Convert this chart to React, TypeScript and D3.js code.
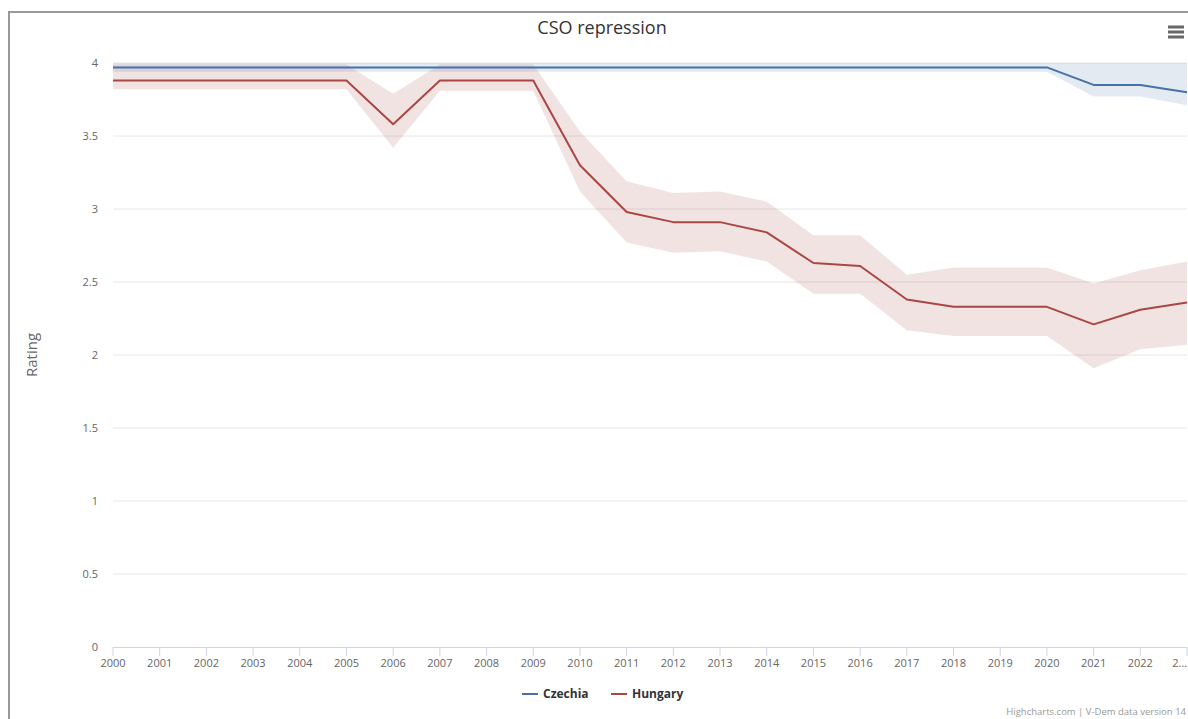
import * as d3 from "d3";

const years = [
  "2000", "2001", "2002", "2003", "2004", "2005", "2006", "2007", "2008", "2009", "2010", "2011",
  "2012", "2013", "2014", "2015", "2016", "2017", "2018", "2019", "2020", "2021", "2022", "2023",
];

const czechiaLine = [
  3.97, 3.97, 3.97, 3.97, 3.97, 3.97, 3.97, 3.97, 3.97, 3.97, 3.97, 3.97,
  3.97, 3.97, 3.97, 3.97, 3.97, 3.97, 3.97, 3.97, 3.97, 3.85, 3.85, 3.8,
];
const czechiaLow = [
  3.94, 3.94, 3.94, 3.94, 3.94, 3.94, 3.94, 3.94, 3.94, 3.94, 3.94, 3.94,
  3.94, 3.94, 3.94, 3.94, 3.94, 3.94, 3.94, 3.94, 3.94, 3.77, 3.77, 3.71,
];
const czechiaHigh = [
  4.0, 4.0, 4.0, 4.0, 4.0, 4.0, 4.0, 4.0, 4.0, 4.0, 4.0, 4.0,
  4.0, 4.0, 4.0, 4.0, 4.0, 4.0, 4.0, 4.0, 4.0, 4.0, 4.0, 4.0,
];

const hungaryLine = [
  3.88, 3.88, 3.88, 3.88, 3.88, 3.88, 3.58, 3.88, 3.88, 3.88, 3.3, 2.98,
  2.91, 2.91, 2.84, 2.63, 2.61, 2.38, 2.33, 2.33, 2.33, 2.21, 2.31, 2.36,
];
const hungaryLow = [
  3.82, 3.82, 3.82, 3.82, 3.82, 3.82, 3.42, 3.81, 3.81, 3.81, 3.12, 2.77,
  2.7, 2.71, 2.64, 2.42, 2.42, 2.17, 2.13, 2.13, 2.13, 1.91, 2.04, 2.07,
];
const hungaryHigh = [
  3.99, 3.99, 3.99, 3.99, 3.99, 3.99, 3.79, 3.99, 3.99, 3.99, 3.53, 3.19,
  3.11, 3.12, 3.05, 2.82, 2.82, 2.55, 2.6, 2.6, 2.6, 2.49, 2.58, 2.64,
];

const yTicks = [0, 0.5, 1, 1.5, 2, 2.5, 3, 3.5, 4];

const series = [
  { name: "Czechia", line: czechiaLine, low: czechiaLow, high: czechiaHigh, color: "#4572a7" },
  { name: "Hungary", line: hungaryLine, low: hungaryLow, high: hungaryHigh, color: "#aa4643" },
];

const width = 1188;
const height = 719;
const font = "'Open Sans', 'Noto Sans', sans-serif";

export default function App() {
  const x = d3.scalePoint<string>().domain(years).range([113, 1187]);
  const y = d3.scaleLinear().domain([0, 4]).range([647, 63]);

  const line = d3
    .line<number>()
    .x((_, i) => x(years[i])!)
    .y((d) => y(d));

  const area = (low: number[], high: number[]) =>
    d3
      .area<number>()
      .x((_, i) => x(years[i])!)
      .y0((_, i) => y(low[i]))
      .y1((d) => y(d))(high);

  return (
    <svg
      width={width}
      height={height}
      style={{ position: "absolute", left: 0, top: 0, fontFamily: font }}
    >
      <rect x={0} y={0} width={width} height={height} fill="#fff" />
      {/* container border */}
      <path d={`M9,${height} V12 H${width}`} fill="none" stroke="#999" strokeWidth={2} />

      <text x={602} y={34} textAnchor="middle" fontSize={18} fill="#333">
        CSO repression
      </text>

      {/* menu icon */}
      <g stroke="#666" strokeWidth={3}>
        <line x1={1168} x2={1184} y1={27} y2={27} />
        <line x1={1168} x2={1184} y1={32} y2={32} />
        <line x1={1168} x2={1184} y1={37} y2={37} />
      </g>

      {/* grid + y labels */}
      {yTicks.map((t) => (
        <g key={t}>
          {t > 0 && (
            <line x1={113} x2={1187} y1={y(t)} y2={y(t)} stroke="#e6e6e6" strokeWidth={1} />
          )}
          <text x={98} y={y(t) + 4} textAnchor="end" fontSize={11} fill="#666">
            {t}
          </text>
        </g>
      ))}

      <text
        transform={`translate(37,${(y(0) + y(4)) / 2}) rotate(-90)`}
        textAnchor="middle"
        fontSize={15}
        fill="#666"
      >
        Rating
      </text>

      {/* bands */}
      {series.map((s) => (
        <path key={s.name + "-band"} d={area(s.low, s.high)!} fill={s.color} fillOpacity={0.15} />
      ))}
      {series.map((s) => (
        <path
          key={s.name + "-line"}
          d={line(s.line)!}
          fill="none"
          stroke={s.color}
          strokeWidth={2}
          strokeLinejoin="round"
        />
      ))}

      {/* x axis */}
      <line x1={113} x2={1187} y1={647.5} y2={647.5} stroke="#ccd6eb" />
      {years.map((yr, i) => {
        const last = i === years.length - 1;
        return (
          <g key={yr}>
            <line x1={x(yr)} x2={x(yr)} y1={647} y2={656} stroke="#ccd6eb" />
            <text
              x={last ? 1187 : x(yr)}
              y={667}
              textAnchor={last ? "end" : "middle"}
              fontSize={11}
              fill="#666"
            >
              {last ? `${yr[0]}…` : yr}
            </text>
          </g>
        );
      })}

      {/* legend */}
      {series.map((s, i) => {
        const lx = 522 + i * 89;
        return (
          <g key={s.name + "-legend"}>
            <line x1={lx} x2={lx + 16} y1={694} y2={694} stroke={s.color} strokeWidth={2} />
            <text x={lx + 21} y={698} fontSize={12} fontWeight="bold" fill="#333">
              {s.name}
            </text>
          </g>
        );
      })}

      <text x={1186} y={715} textAnchor="end" fontSize={9.5} fill="#999">
        Highcharts.com | V-Dem data version 14
      </text>
    </svg>
  );
}
